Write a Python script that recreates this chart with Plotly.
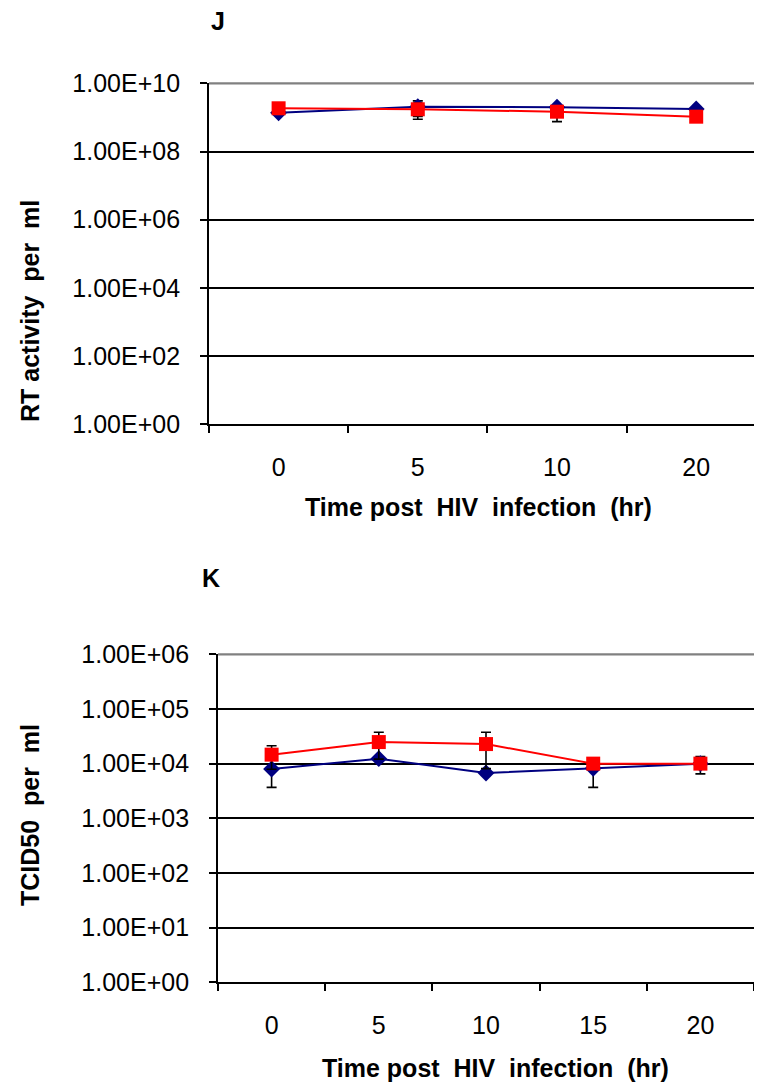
import plotly.graph_objects as go

W, H = 762, 1082
OFF = 8  # page body margin of the browser

# ---- Panel J data ----
j_categories = ["0", "5", "10", "20"]
j_blue = [1.37e9, 2.06e9, 1.98e9, 1.76e9]
j_blue_err = [None, 1.0e9, None, None]
j_red = [1.85e9, 1.73e9, 1.47e9, 1.05e9]
j_red_err = [None, 0.85e9, 0.72e9, None]
j_tickvals = [1e0, 1e2, 1e4, 1e6, 1e8, 1e10]
j_ticktext = ["1.00E+00", "1.00E+02", "1.00E+04", "1.00E+06", "1.00E+08", "1.00E+10"]

# ---- Panel K data ----
k_categories = ["0", "5", "10", "15", "20"]
k_blue = [7960, 12340, 6730, 8200, 10000]
k_blue_err = [4280, None, None, 4520, 3500]
k_red = [14600, 24800, 22800, 10000, 10000]
k_red_err = [6700, 12700, 14700, None, None]
k_tickvals = [1e0, 1e1, 1e2, 1e3, 1e4, 1e5, 1e6]
k_ticktext = ["1.00E+00", "1.00E+01", "1.00E+02", "1.00E+03", "1.00E+04", "1.00E+05", "1.00E+06"]

FONT = "Liberation Sans, Arial, sans-serif"
NAVY = "#000080"
RED = "#FF0000"
FS = 25


def px_x(p):
    return (p - OFF) / W


def px_y(p):
    return 1 - (p - OFF) / H


fig = go.Figure()


def add_series(x, y, err, color, symbol, size, xa, ya):
    fig.add_trace(go.Scatter(
        x=x, y=y, mode="lines+markers",
        line=dict(color=color, width=2),
        marker=dict(color=color, symbol=symbol, size=size),
        error_y=dict(type="data", array=err, symmetric=True, color="black",
                     thickness=1.6, width=5, visible=True),
        xaxis=xa, yaxis=ya, showlegend=False, cliponaxis=False,
    ))


add_series(j_categories, j_blue, j_blue_err, NAVY, "diamond", 13, "x", "y")
add_series(j_categories, j_red, j_red_err, RED, "square", 14, "x", "y")
add_series(k_categories, k_blue, k_blue_err, NAVY, "diamond", 13, "x2", "y2")
add_series(k_categories, k_red, k_red_err, RED, "square", 14, "x2", "y2")

j_top, j_bot, j_left = 83.3, 424.3, 209
k_top, k_bot, k_left = 654.3, 982.3, 218

j_catw = 139.2
k_catw = 107.2

xcommon = dict(
    type="category", showline=True, linecolor="black", linewidth=1.8,
    ticks="outside", tickson="boundaries", ticklen=7, tickwidth=1.6, tickcolor="black",
    showgrid=False, zeroline=False, fixedrange=True, automargin=False,
    tickfont=dict(family=FONT, size=FS, color="black"),
    ticklabelstandoff=20,
)
ycommon = dict(
    type="log", showline=True, linecolor="black", linewidth=1.8,
    ticks="outside", ticklen=7, tickwidth=1.6, tickcolor="black",
    showgrid=True, gridcolor="black", gridwidth=1.6, zeroline=False, fixedrange=True,
    automargin=False,
    tickfont=dict(family=FONT, size=FS, color="black"),
    ticklabelstandoff=15,
)

fig.update_layout(
    width=W, height=H, autosize=False,
    margin=dict(l=0, r=0, t=0, b=0, pad=0),
    paper_bgcolor="white", plot_bgcolor="white",
    xaxis=dict(xcommon, domain=[px_x(j_left), 1], anchor="y",
               range=[-0.5, (W + OFF - j_left) / j_catw - 0.5]),
    yaxis=dict(ycommon, domain=[px_y(j_bot), px_y(j_top)], anchor="x",
               range=[0, 10], tickvals=j_tickvals, ticktext=j_ticktext),
    xaxis2=dict(xcommon, domain=[px_x(k_left), 1], anchor="y2",
                range=[-0.5, (W + OFF - k_left) / k_catw - 0.5]),
    yaxis2=dict(ycommon, domain=[px_y(k_bot), px_y(k_top)], anchor="x2",
                range=[0, 6], tickvals=k_tickvals, ticktext=k_ticktext),
    shapes=[
        dict(type="line", xref="x domain", yref="y domain", x0=0, x1=1, y0=1, y1=1,
             line=dict(color="#808080", width=2.2), layer="above"),
        dict(type="line", xref="x2 domain", yref="y2 domain", x0=0, x1=1, y0=1, y1=1,
             line=dict(color="#808080", width=2.2), layer="above"),
    ],
)

ann_font = dict(family=FONT, size=FS, color="black")


def ann(text, x, y, angle=0):
    fig.add_annotation(
        text="<b>" + text + "</b>", x=px_x(x), y=px_y(y), xref="paper", yref="paper",
        showarrow=False, textangle=angle, font=ann_font,
        xanchor="center", yanchor="middle",
    )


ann("J", 218, 21)
ann("K", 211, 578)
ann("RT activity  per  ml", 30, 311, -90)
ann("TCID50  per  ml", 30, 815, -90)
ann("Time post  HIV  infection  (hr)", 478, 507)
ann("Time post  HIV  infection  (hr)", 495, 1068)

fig.write_html("out.html")
